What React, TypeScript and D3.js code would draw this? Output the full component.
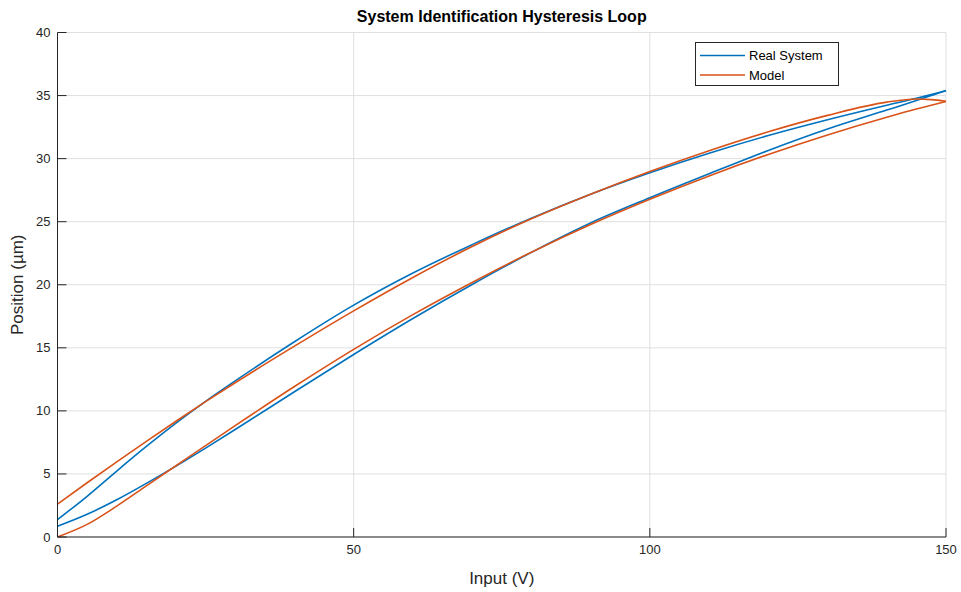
import React from "react";
import * as d3 from "d3";

// Input voltage samples (V) shared by all branches
const inputV = [0, 5, 10, 15, 20, 25, 30, 40, 50, 60, 70, 80, 90, 100, 110, 120, 130, 140, 145, 147.5, 150];

// Real system: ascending (lower) and descending (upper) branches, µm
const realAscending = [0.85, 1.8, 2.95, 4.25, 5.62, 7.05, 8.52, 11.52, 14.47, 17.32, 20.02, 22.57, 24.9, 26.9, 28.8, 30.65, 32.35, 33.85, 34.6, 35.0, 35.4];
const realDescending = [1.38, 3.23, 5.23, 7.18, 9.03, 10.76, 12.38, 15.48, 18.38, 20.93, 23.18, 25.28, 27.18, 28.88, 30.43, 31.83, 33.08, 34.23, 34.78, 35.08, 35.38];

// Model: ascending (lower) and descending (upper) branches, µm
const modelAscending = [0.0, 1.0, 2.45, 4.05, 5.65, 7.25, 8.83, 11.93, 14.88, 17.63, 20.18, 22.58, 24.78, 26.78, 28.63, 30.33, 31.88, 33.28, 33.93, 34.23, 34.53];
const modelDescending = [2.6, 4.3, 5.95, 7.58, 9.18, 10.73, 12.23, 15.13, 17.93, 20.58, 23.03, 25.23, 27.18, 28.98, 30.63, 32.13, 33.43, 34.48, 34.73, 34.68, 34.55];

const xTicks = [0, 50, 100, 150];
const yTicks = [0, 5, 10, 15, 20, 25, 30, 35, 40];

const seriesNames = ["Real System", "Model"];
const seriesColors = ["#0072BD", "#D95319"];

const W = 961;
const H = 592;
const left = 57.5;
const right = 946;
const top = 32.5;
const bottom = 537;

export default function App() {
  const x = d3.scaleLinear().domain([0, 150]).range([left, right]);
  const y = d3.scaleLinear().domain([0, 40]).range([bottom, top]);

  const line = d3
    .line<[number, number]>()
    .x((d) => x(d[0]))
    .y((d) => y(d[1]))
    .curve(d3.curveMonotoneX);

  const branch = (vals: number[]) => line(inputV.map((v, i) => [v, vals[i]] as [number, number])) || "";

  const series = [
    [realAscending, realDescending],
    [modelAscending, modelDescending],
  ];

  const font = "Arial, 'Liberation Sans', Helvetica, sans-serif";
  const axisColor = "#262626";
  const gridColor = "#dfdfdf";

  return (
    <svg
      width={W}
      height={H}
      style={{ position: "absolute", left: 0, top: 0, background: "#fff" }}
      fontFamily={font}
    >
      <rect width={W} height={H} fill="#fff" />
      {/* grid */}
      {xTicks.map((t) => (
        <line key={"gx" + t} x1={x(t)} x2={x(t)} y1={top} y2={bottom} stroke={gridColor} strokeWidth={1} />
      ))}
      {yTicks.map((t) => (
        <line key={"gy" + t} x1={left} x2={right} y1={y(t)} y2={y(t)} stroke={gridColor} strokeWidth={1} />
      ))}

      {/* hysteresis branches */}
      {series.map((branches, si) =>
        branches.map((vals, bi) => (
          <path
            key={`s${si}b${bi}`}
            d={branch(vals)}
            fill="none"
            stroke={seriesColors[si]}
            strokeWidth={1.6}
            strokeLinejoin="round"
          />
        ))
      )}

      {/* axes */}
      <line x1={left} x2={left} y1={top} y2={bottom} stroke={axisColor} strokeWidth={1} />
      <line x1={left} x2={right} y1={bottom} y2={bottom} stroke={axisColor} strokeWidth={1} />
      {yTicks.map((t) => (
        <g key={"ty" + t}>
          <line x1={left} x2={left + 9} y1={y(t)} y2={y(t)} stroke={axisColor} strokeWidth={1} />
          <text x={left - 7} y={y(t)} dy="0.35em" textAnchor="end" fontSize={13} fill={axisColor}>
            {t}
          </text>
        </g>
      ))}
      {xTicks.map((t) => (
        <g key={"tx" + t}>
          <line x1={x(t)} x2={x(t)} y1={bottom} y2={bottom - 9} stroke={axisColor} strokeWidth={1} />
          <text x={x(t)} y={bottom + 17} textAnchor="middle" fontSize={13} fill={axisColor}>
            {t}
          </text>
        </g>
      ))}

      {/* labels */}
      <text x={(left + right) / 2} y={22} textAnchor="middle" fontSize={16} fontWeight="bold" fill="#000">
        System Identification Hysteresis Loop
      </text>
      <text x={(left + right) / 2} y={584} textAnchor="middle" fontSize={17} fill={axisColor}>
        Input (V)
      </text>
      <text
        transform={`translate(23, ${(top + bottom) / 2}) rotate(-90)`}
        textAnchor="middle"
        fontSize={17}
        fill={axisColor}
      >
        Position (µm)
      </text>

      {/* legend */}
      <g>
        <rect x={695.5} y={42.5} width={143} height={43} fill="#fff" stroke="#262626" strokeWidth={1} />
        {seriesNames.map((name, i) => (
          <g key={name}>
            <line x1={700} x2={745} y1={55.5 + i * 19.5} y2={55.5 + i * 19.5} stroke={seriesColors[i]} strokeWidth={1.6} />
            <text x={749} y={55.5 + i * 19.5} dy="0.35em" fontSize={13} fill="#000">
              {name}
            </text>
          </g>
        ))}
      </g>
    </svg>
  );
}
